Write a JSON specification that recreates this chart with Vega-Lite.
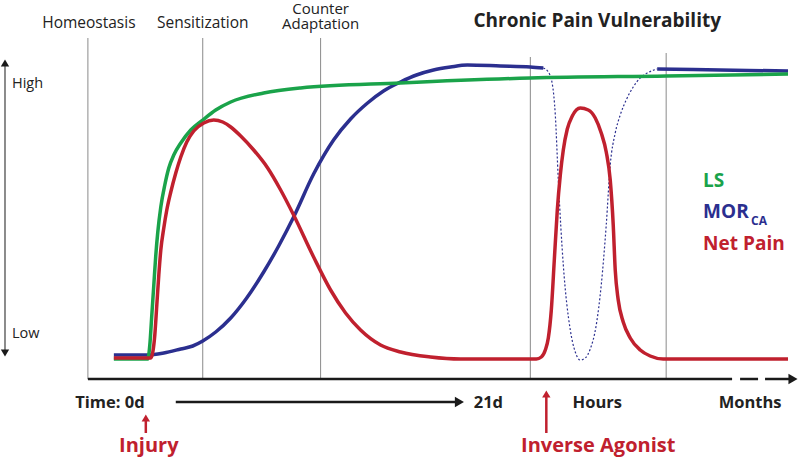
{
  "$schema": "https://vega.github.io/schema/vega-lite/v6.json",
  "width": 800,
  "height": 459,
  "autosize": {"type": "fit", "contains": "padding"},
  "padding": 0,
  "background": "white",
  "config": {"view": {"stroke": null}, "font": "Open Sans"},
  "encoding": {
    "x": {"field": "t", "type": "quantitative", "scale": {"domain": [0, 800], "nice": false, "zero": false}, "axis": null},
    "y": {"field": "v", "type": "quantitative", "scale": {"domain": [459, 0], "nice": false, "zero": false}, "axis": null}
  },
  "layer": [
    {
      "data": {"values": [
        {"t": 87, "v": 38, "v2": 379},
        {"t": 202, "v": 38, "v2": 379},
        {"t": 320, "v": 38, "v2": 379},
        {"t": 530, "v": 57, "v2": 379},
        {"t": 666, "v": 53, "v2": 379}
      ]},
      "mark": {"type": "rule", "color": "#8a8a8a", "strokeWidth": 1},
      "encoding": {"y2": {"field": "v2"}}
    },
    {
      "data": {"values": [
        {"t": 4, "v": 64, "v2": 352}
      ]},
      "mark": {"type": "rule", "color": "#666666", "strokeWidth": 1.5},
      "encoding": {"y2": {"field": "v2"}}
    },
    {
      "data": {"values": [
        {"t": 87, "t2": 732, "v": 379},
        {"t": 740, "t2": 758, "v": 379},
        {"t": 765, "t2": 790, "v": 379},
        {"t": 175, "t2": 455, "v": 402}
      ]},
      "mark": {"type": "rule", "color": "#1a1a1a", "strokeWidth": 2.5},
      "encoding": {"x2": {"field": "t2"}}
    },
    {
      "data": {"values": [
        {"t": 793, "v": 379},
        {"t": 459, "v": 402}
      ]},
      "mark": {"type": "point", "shape": "triangle-right", "filled": true, "color": "#1a1a1a", "size": 110, "opacity": 1}
    },
    {
      "data": {"values": [{"t": 4, "v": 63}]},
      "mark": {"type": "point", "shape": "triangle-up", "filled": true, "color": "#1a1a1a", "size": 70, "opacity": 1}
    },
    {
      "data": {"values": [{"t": 4, "v": 353}]},
      "mark": {"type": "point", "shape": "triangle-down", "filled": true, "color": "#1a1a1a", "size": 70, "opacity": 1}
    },
    {
      "data": {"values": [
        {"t": 145, "v": 419, "v2": 433},
        {"t": 546, "v": 396, "v2": 433}
      ]},
      "mark": {"type": "rule", "color": "#c0202e", "strokeWidth": 2.5},
      "encoding": {"y2": {"field": "v2"}}
    },
    {
      "data": {"values": [{"t": 145, "v": 418}, {"t": 546, "v": 394}]},
      "mark": {"type": "point", "shape": "triangle-up", "filled": true, "color": "#c0202e", "size": 70, "opacity": 1}
    },
    {
      "data": {"values": [
        {"seg": 1, "t": 113, "v": 355}, {"seg": 1, "t": 147, "v": 355}, {"seg": 1, "t": 163, "v": 353},
        {"seg": 1, "t": 180, "v": 349}, {"seg": 1, "t": 192, "v": 346}, {"seg": 1, "t": 202, "v": 341},
        {"seg": 1, "t": 215, "v": 332}, {"seg": 1, "t": 230, "v": 318},
        {"seg": 1, "t": 246, "v": 298}, {"seg": 1, "t": 263, "v": 272}, {"seg": 1, "t": 278, "v": 246},
        {"seg": 1, "t": 293, "v": 217}, {"seg": 1, "t": 313, "v": 174},
        {"seg": 1, "t": 333, "v": 140}, {"seg": 1, "t": 350, "v": 119}, {"seg": 1, "t": 367, "v": 103}, {"seg": 1, "t": 383, "v": 91},
        {"seg": 1, "t": 400, "v": 82}, {"seg": 1, "t": 416, "v": 75},
        {"seg": 1, "t": 433, "v": 70}, {"seg": 1, "t": 450, "v": 67}, {"seg": 1, "t": 467, "v": 65}, {"seg": 1, "t": 500, "v": 66},
        {"seg": 1, "t": 530, "v": 67}, {"seg": 1, "t": 543, "v": 68},
        {"seg": 3, "t": 657, "v": 69}, {"seg": 3, "t": 720, "v": 70}, {"seg": 3, "t": 788, "v": 71}
      ]},
      "mark": {"type": "line", "color": "#2b2f8f", "strokeWidth": 3.5, "interpolate": "monotone"},
      "encoding": {"detail": {"field": "seg", "type": "nominal"}}
    },
    {
      "data": {"values": [
        {"t": 543, "v": 68}, {"t": 548, "v": 72}, {"t": 552, "v": 84}, {"t": 555, "v": 115},
        {"t": 558, "v": 180}, {"t": 563, "v": 265}, {"t": 570, "v": 330}, {"t": 575, "v": 352}, {"t": 580, "v": 360},
        {"t": 585, "v": 358}, {"t": 590, "v": 349}, {"t": 596, "v": 325}, {"t": 601, "v": 285}, {"t": 606, "v": 225}, {"t": 610, "v": 165},
        {"t": 615, "v": 133}, {"t": 620, "v": 115}, {"t": 626, "v": 100}, {"t": 633, "v": 87}, {"t": 640, "v": 78}, {"t": 647, "v": 73}, {"t": 657, "v": 69}
      ]},
      "mark": {"type": "line", "color": "#2b2f8f", "strokeWidth": 1.2, "strokeDash": [2, 2], "interpolate": "monotone"}
    },
    {
      "data": {"values": [
        {"t": 113, "v": 359}, {"t": 147, "v": 359}, {"t": 149, "v": 345}, {"t": 151, "v": 315},
        {"t": 153, "v": 285}, {"t": 155, "v": 255}, {"t": 157, "v": 232}, {"t": 160, "v": 207},
        {"t": 164, "v": 185}, {"t": 168, "v": 168}, {"t": 173, "v": 155}, {"t": 180, "v": 143},
        {"t": 190, "v": 130}, {"t": 202, "v": 120}, {"t": 215, "v": 110},
        {"t": 230, "v": 102}, {"t": 263, "v": 93}, {"t": 300, "v": 88}, {"t": 400, "v": 83},
        {"t": 530, "v": 78}, {"t": 666, "v": 76}, {"t": 788, "v": 74}
      ]},
      "mark": {"type": "line", "color": "#1aa34a", "strokeWidth": 3.5, "interpolate": "monotone"}
    },
    {
      "data": {"values": [
        {"t": 113, "v": 358}, {"t": 150, "v": 358}, {"t": 152, "v": 352}, {"t": 154, "v": 335},
        {"t": 156, "v": 305}, {"t": 158, "v": 275}, {"t": 160, "v": 250}, {"t": 163, "v": 228},
        {"t": 166, "v": 210}, {"t": 170, "v": 192}, {"t": 175, "v": 173},
        {"t": 180, "v": 157}, {"t": 186, "v": 142}, {"t": 193, "v": 131}, {"t": 203, "v": 123},
        {"t": 213, "v": 120}, {"t": 222, "v": 122}, {"t": 230, "v": 127}, {"t": 240, "v": 136},
        {"t": 253, "v": 150}, {"t": 267, "v": 168}, {"t": 280, "v": 190}, {"t": 293, "v": 215},
        {"t": 313, "v": 257}, {"t": 330, "v": 290}, {"t": 345, "v": 313}, {"t": 360, "v": 330}, {"t": 380, "v": 345},
        {"t": 400, "v": 352}, {"t": 430, "v": 357}, {"t": 460, "v": 359}, {"t": 536, "v": 359},
        {"t": 541, "v": 357}, {"t": 545, "v": 350}, {"t": 548, "v": 338}, {"t": 551, "v": 310}, {"t": 554, "v": 260},
        {"t": 557, "v": 210}, {"t": 560, "v": 175}, {"t": 563, "v": 150}, {"t": 567, "v": 129},
        {"t": 572, "v": 116}, {"t": 580, "v": 108}, {"t": 588, "v": 110}, {"t": 595, "v": 118}, {"t": 601, "v": 133},
        {"t": 606, "v": 152}, {"t": 610, "v": 180}, {"t": 613, "v": 225},
        {"t": 615, "v": 270}, {"t": 618, "v": 300}, {"t": 623, "v": 322}, {"t": 630, "v": 338},
        {"t": 640, "v": 350}, {"t": 650, "v": 356}, {"t": 663, "v": 359}, {"t": 788, "v": 359}
      ]},
      "mark": {"type": "line", "color": "#c0202e", "strokeWidth": 3.5, "interpolate": "monotone"}
    },
    {
      "data": {"values": [
        {"label": "Homeostasis", "t": 88, "v": 28},
        {"label": "Sensitization", "t": 202, "v": 28}
      ]},
      "mark": {"type": "text", "fontSize": 15.5, "color": "#222222", "align": "center", "baseline": "alphabetic"},
      "encoding": {"text": {"field": "label"}}
    },
    {
      "data": {"values": [
        {"label": "Counter\nAdaptation", "t": 320, "v": 13.5}
      ]},
      "mark": {"type": "text", "fontSize": 15, "color": "#222222", "align": "center", "baseline": "alphabetic", "lineBreak": "\n", "lineHeight": 15}, 
      "encoding": {"text": {"field": "label"}}
    },
    {
      "data": {"values": [
        {"label": "High", "t": 11, "v": 88},
        {"label": "Low", "t": 11, "v": 338}
      ]},
      "mark": {"type": "text", "fontSize": 14.5, "color": "#222222", "align": "left", "baseline": "alphabetic"},
      "encoding": {"text": {"field": "label"}}
    },
    {
      "data": {"values": [{"label": "Chronic Pain Vulnerability", "t": 597, "v": 27}]},
      "mark": {"type": "text", "fontSize": 19, "fontWeight": "bold", "color": "#222222", "align": "center", "baseline": "alphabetic"},
      "encoding": {"text": {"field": "label"}}
    },
    {
      "data": {"values": [
        {"label": "Time: 0d", "t": 109, "v": 408},
        {"label": "21d", "t": 488, "v": 408},
        {"label": "Hours", "t": 597, "v": 408},
        {"label": "Months", "t": 750, "v": 408}
      ]},
      "mark": {"type": "text", "fontSize": 16.5, "fontWeight": "bold", "color": "#222222", "align": "center", "baseline": "alphabetic"},
      "encoding": {"text": {"field": "label"}}
    },
    {
      "data": {"values": [
        {"label": "Injury", "t": 148, "v": 452},
        {"label": "Inverse Agonist", "t": 598, "v": 452}
      ]},
      "mark": {"type": "text", "fontSize": 20, "fontWeight": "bold", "color": "#c0202e", "align": "center", "baseline": "alphabetic"},
      "encoding": {"text": {"field": "label"}}
    },
    {
      "data": {"values": [
        {"label": "LS", "series": "LS", "t": 703, "v": 187},
        {"label": "MOR", "series": "MOR", "t": 703, "v": 218},
        {"label": "Net Pain", "series": "Net Pain", "t": 703, "v": 250}
      ]},
      "mark": {"type": "text", "fontSize": 19, "fontWeight": "bold", "align": "left", "baseline": "alphabetic"},
      "encoding": {
        "text": {"field": "label"},
        "color": {"field": "series", "type": "nominal", "scale": {"domain": ["LS", "MOR", "Net Pain"], "range": ["#1aa34a", "#2b2f8f", "#c0202e"]}, "legend": null}
      }
    },
    {
      "data": {"values": [{"label": "CA", "t": 751, "v": 225}]},
      "mark": {"type": "text", "fontSize": 12, "fontWeight": "bold", "color": "#2b2f8f", "align": "left", "baseline": "alphabetic"},
      "encoding": {"text": {"field": "label"}}
    }
  ]
}
